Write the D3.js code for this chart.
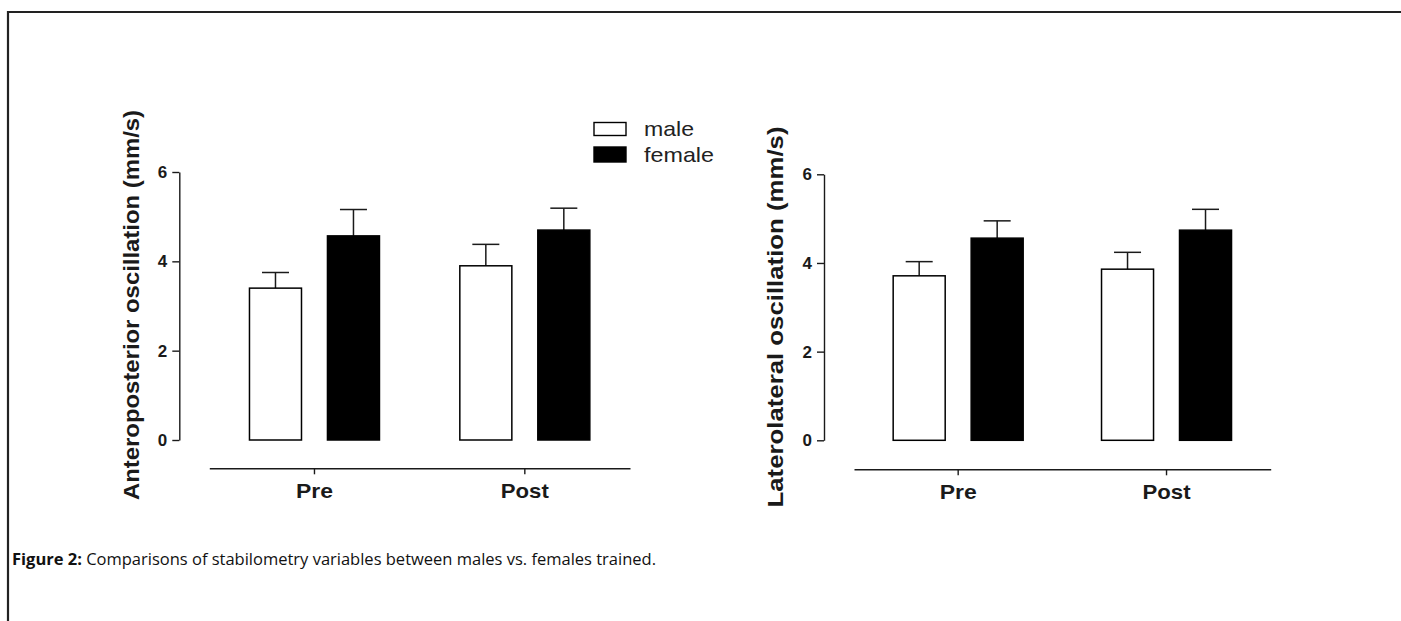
<!DOCTYPE html>
<html>
<head>
<meta charset="utf-8">
<script src="https://cdn.jsdelivr.net/npm/d3@7"></script>
<style>
  html, body { margin: 0; padding: 0; background: #fff; }
  svg { display: block; }
</style>
</head>
<body>
<svg id="chart" width="1401" height="621"></svg>
<script>
// ---- data ----
const timepoints = ["Pre", "Post"];
const groups = ["male", "female"];
const yTicks = [0, 2, 4, 6];

// Anteroposterior oscillation (mm/s): means and SEM
const apMale = [3.40, 3.90];
const apMaleErr = [0.35, 0.48];
const apFemale = [4.57, 4.70];
const apFemaleErr = [0.59, 0.49];

// Laterolateral oscillation (mm/s): means and SEM
const llMale = [3.71, 3.86];
const llMaleErr = [0.32, 0.38];
const llFemale = [4.56, 4.74];
const llFemaleErr = [0.39, 0.47];

const captionBold = "Figure 2:";
const captionText = " Comparisons of stabilometry variables between males vs. females trained.";

// ---- drawing ----
const svg = d3.select("#chart");
const ink = "#1a1a1a";
const axisFont = "'Liberation Sans', Arial, sans-serif";

// figure frame (left + top border)
svg.append("path")
  .attr("d", "M8,621 L8,12 L1401,12")
  .attr("fill", "none").attr("stroke", "#222").attr("stroke-width", 2.2);

function panel(cfg) {
  const g = svg.append("g");
  const y = d3.scaleLinear().domain([0, 6]).range([cfg.y0, cfg.y6]);
  const x = d3.scaleBand().domain(timepoints).range([cfg.xl, cfg.xr]).padding(0);

  // y axis
  const ya = g.append("g")
    .attr("transform", `translate(${cfg.yAxisX},0)`)
    .call(d3.axisLeft(y).tickValues(yTicks).tickFormat(d3.format("d"))
      .tickSize(7).tickSizeOuter(0).tickPadding(5));
  ya.attr("font-size", null).attr("font-family", null);
  ya.selectAll("path, line").attr("stroke", ink).attr("stroke-width", 1.4);
  ya.selectAll("text").style("font-family", axisFont).style("font-weight", "bold")
    .style("font-size", "17px").attr("fill", ink);

  // x axis (separate baseline)
  const xa = g.append("g")
    .attr("transform", `translate(0,${cfg.xAxisY})`)
    .call(d3.axisBottom(x).tickSize(6).tickSizeOuter(0).tickPadding(9));
  xa.attr("font-size", null).attr("font-family", null);
  xa.selectAll("path, line").attr("stroke", ink).attr("stroke-width", 1.4);
  xa.selectAll("text").style("font-family", axisFont).style("font-weight", "bold")
    .style("font-size", "21px").attr("fill", ink)
    .attr("textLength", d => d === "Pre" ? 37 : 48).attr("lengthAdjust", "spacingAndGlyphs");

  // bars
  const rows = [];
  timepoints.forEach((t, i) => {
    rows.push({t, grp: "male", v: cfg.male[i], e: cfg.maleErr[i]});
    rows.push({t, grp: "female", v: cfg.female[i], e: cfg.femaleErr[i]});
  });
  const sub = d3.scaleBand().domain(groups).range([-78, 78])
    .paddingInner(0.333).paddingOuter(0.1667);
  const cx = d => x(d.t) + x.bandwidth() / 2;

  // error bars (drawn first so bars cover the lower part)
  const eb = g.append("g").attr("stroke", ink).attr("stroke-width", 1.5);
  rows.forEach(d => {
    const mx = cx(d) + sub(d.grp) + sub.bandwidth() / 2;
    eb.append("line").attr("x1", mx).attr("x2", mx).attr("y1", y(d.v)).attr("y2", y(d.v + d.e));
    eb.append("line").attr("x1", mx - 13.5).attr("x2", mx + 13.5)
      .attr("y1", y(d.v + d.e)).attr("y2", y(d.v + d.e));
  });

  g.append("g").selectAll("rect").data(rows).join("rect")
    .attr("x", d => cx(d) + sub(d.grp))
    .attr("width", sub.bandwidth())
    .attr("y", d => y(d.v))
    .attr("height", d => y(0) - y(d.v))
    .attr("fill", d => d.grp === "male" ? "#fff" : "#000")
    .attr("stroke", "#000").attr("stroke-width", 1.5);

  // y title
  g.append("text")
    .attr("transform", `translate(${cfg.titleX},${cfg.titleY}) rotate(-90)`)
    .attr("text-anchor", "middle")
    .attr("font-family", axisFont).attr("font-weight", "bold")
    .attr("font-size", 22).attr("fill", ink)
    .attr("textLength", cfg.titleLen).attr("lengthAdjust", "spacingAndGlyphs")
    .text(cfg.title);
}

panel({
  male: apMale, maleErr: apMaleErr, female: apFemale, femaleErr: apFemaleErr,
  y0: 440, y6: 172, xl: 209.3, xr: 630, yAxisX: 179.3, xAxisY: 468.3,
  title: "Anteroposterior oscillation (mm/s)", titleX: 139, titleY: 305, titleLen: 390
});
panel({
  male: llMale, maleErr: llMaleErr, female: llFemale, femaleErr: llFemaleErr,
  y0: 440.3, y6: 174.3, xl: 854, xr: 1270.7, yAxisX: 824, xAxisY: 469.3,
  title: "Laterolateral oscillation (mm/s)", titleX: 783, titleY: 317, titleLen: 381
});

// legend
const leg = svg.append("g");
const legY = [122.5, 147];
groups.forEach((gname, i) => {
  leg.append("rect").attr("x", 594).attr("y", legY[i]).attr("width", 32)
    .attr("height", i === 0 ? 13 : 15)
    .attr("fill", gname === "male" ? "#fff" : "#000")
    .attr("stroke", "#000").attr("stroke-width", 1.4);
  leg.append("text").attr("x", 644).attr("y", i === 0 ? 136 : 161.5)
    .attr("font-family", axisFont).attr("font-size", 21).attr("fill", "#222")
    .attr("textLength", gname === "male" ? 50 : 70).attr("lengthAdjust", "spacingAndGlyphs")
    .text(gname);
});

// caption
const cap = svg.append("text").attr("x", 12).attr("y", 565)
  .attr("font-family", "'Open Sans', 'Noto Sans', sans-serif").attr("font-size", 16)
  .attr("fill", "#111")
  .attr("textLength", 644).attr("lengthAdjust", "spacingAndGlyphs");
cap.append("tspan").attr("font-weight", "bold").text(captionBold);
cap.append("tspan").text(captionText);
</script>
</body>
</html>
